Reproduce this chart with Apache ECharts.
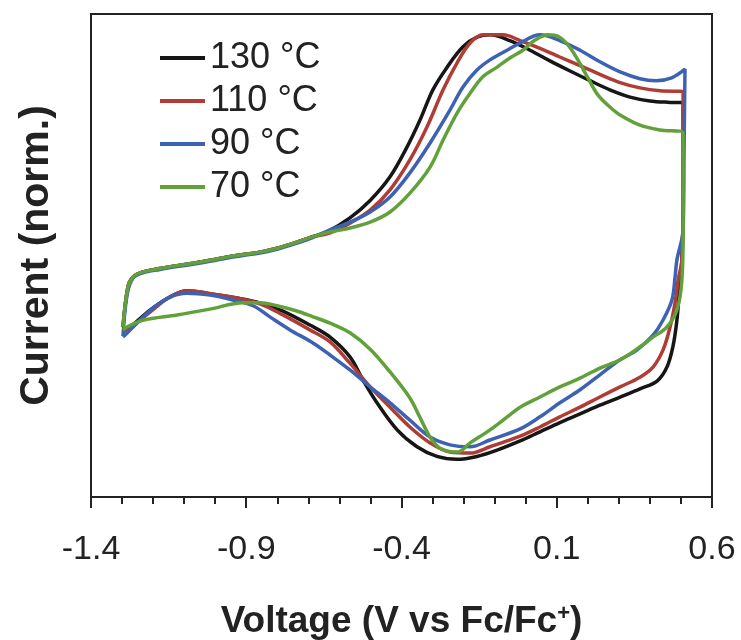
<!DOCTYPE html>
<html>
<head>
<meta charset="utf-8">
<script src="https://cdn.jsdelivr.net/npm/echarts@6/dist/echarts.min.js"></script>
<style>html,body{margin:0;padding:0;background:#fff;}#chart{width:741px;height:640px;}</style>
</head>
<body>
<div id="chart"></div>
<script>
// Series names
var seriesNames = ['130 °C', '110 °C', '90 °C', '70 °C'];
var seriesColors = ['#161616', '#b03d35', '#3d62b4', '#62a03a'];

// X-axis tick labels (V vs Fc/Fc+)
var xMajorTicks = [-1.4, -0.9, -0.4, 0.1, 0.6];

// 130 °C
var v130 = [-1.297,-1.281,-1.265,-1.233,-1.178,-1.123,-1.072,-1.017,-0.960,-0.910,-0.856,-0.801,-0.749,-0.695,-0.640,-0.566,-0.501,-0.437,-0.382,-0.340,-0.299,-0.253,-0.202,-0.157,-0.115,-0.051,0.014,0.078,0.143,0.207,0.271,0.336,0.400,0.465,0.507,0.507,0.503,0.494,0.487,0.474,0.455,0.423,0.368,0.304,0.239,0.175,0.110,0.046,-0.018,-0.092,-0.157,-0.221,-0.286,-0.350,-0.414,-0.479,-0.524,-0.566,-0.630,-0.695,-0.782,-0.856,-0.930,-1.017,-1.091,-1.146,-1.210,-1.274,-1.297];
var i130 = [0.352,0.435,0.455,0.466,0.473,0.479,0.484,0.490,0.497,0.502,0.507,0.515,0.525,0.537,0.549,0.578,0.614,0.663,0.725,0.781,0.843,0.890,0.932,0.952,0.957,0.945,0.925,0.903,0.882,0.862,0.843,0.828,0.820,0.817,0.816,0.615,0.491,0.422,0.366,0.311,0.269,0.240,0.224,0.207,0.190,0.172,0.154,0.135,0.116,0.097,0.084,0.078,0.084,0.104,0.139,0.195,0.242,0.290,0.331,0.356,0.385,0.402,0.412,0.421,0.427,0.414,0.387,0.352,0.346];

// 110 °C
var v110 = [-1.297,-1.281,-1.265,-1.233,-1.178,-1.123,-1.072,-1.017,-0.960,-0.910,-0.856,-0.801,-0.749,-0.695,-0.630,-0.566,-0.501,-0.437,-0.373,-0.318,-0.266,-0.221,-0.179,-0.138,-0.073,-0.018,0.046,0.110,0.175,0.239,0.304,0.368,0.433,0.507,0.507,0.503,0.491,0.481,0.465,0.442,0.410,0.368,0.304,0.239,0.175,0.110,0.046,-0.018,-0.115,-0.179,-0.244,-0.308,-0.373,-0.437,-0.501,-0.566,-0.630,-0.695,-0.782,-0.856,-0.930,-1.017,-1.091,-1.146,-1.210,-1.274,-1.297];
var i110 = [0.352,0.435,0.455,0.466,0.473,0.479,0.484,0.490,0.497,0.502,0.507,0.515,0.525,0.537,0.547,0.567,0.594,0.636,0.698,0.766,0.843,0.899,0.940,0.957,0.957,0.945,0.929,0.911,0.893,0.875,0.858,0.847,0.841,0.839,0.615,0.491,0.449,0.402,0.352,0.304,0.269,0.248,0.228,0.207,0.186,0.166,0.145,0.126,0.104,0.091,0.093,0.112,0.145,0.186,0.228,0.277,0.321,0.346,0.377,0.400,0.412,0.421,0.427,0.414,0.383,0.350,0.344];

// 90 °C
var v90 = [-1.297,-1.284,-1.265,-1.233,-1.178,-1.123,-1.072,-1.017,-0.960,-0.910,-0.856,-0.801,-0.749,-0.695,-0.630,-0.566,-0.501,-0.437,-0.373,-0.308,-0.244,-0.202,-0.157,-0.115,-0.060,-0.018,0.046,0.110,0.175,0.239,0.304,0.368,0.420,0.470,0.513,0.510,0.507,0.487,0.481,0.471,0.442,0.410,0.358,0.304,0.239,0.175,0.110,0.046,-0.018,-0.115,-0.179,-0.244,-0.308,-0.373,-0.437,-0.501,-0.566,-0.630,-0.685,-0.759,-0.824,-0.878,-0.943,-1.017,-1.091,-1.146,-1.200,-1.252,-1.297];
var i90 = [0.333,0.418,0.453,0.464,0.471,0.477,0.482,0.488,0.495,0.500,0.505,0.513,0.523,0.535,0.553,0.569,0.590,0.621,0.671,0.733,0.801,0.849,0.884,0.905,0.925,0.940,0.957,0.945,0.925,0.901,0.880,0.866,0.862,0.868,0.886,0.718,0.553,0.491,0.455,0.408,0.366,0.335,0.304,0.284,0.253,0.222,0.195,0.166,0.141,0.118,0.104,0.108,0.124,0.159,0.195,0.228,0.263,0.294,0.319,0.346,0.373,0.396,0.408,0.418,0.422,0.414,0.391,0.360,0.331];

// 70 °C
var v70 = [-1.297,-1.281,-1.265,-1.233,-1.178,-1.123,-1.072,-1.017,-0.960,-0.910,-0.856,-0.801,-0.749,-0.695,-0.630,-0.566,-0.501,-0.437,-0.373,-0.308,-0.266,-0.221,-0.179,-0.138,-0.092,-0.051,-0.009,0.030,0.072,0.104,0.136,0.168,0.201,0.233,0.272,0.304,0.368,0.433,0.507,0.507,0.503,0.487,0.455,0.410,0.368,0.304,0.239,0.175,0.110,0.046,-0.018,-0.051,-0.115,-0.179,-0.221,-0.276,-0.308,-0.340,-0.373,-0.437,-0.501,-0.566,-0.630,-0.685,-0.737,-0.801,-0.856,-0.910,-1.017,-1.123,-1.233,-1.284,-1.297];
var i70 = [0.352,0.435,0.455,0.466,0.473,0.479,0.484,0.490,0.497,0.502,0.507,0.515,0.525,0.537,0.549,0.557,0.569,0.590,0.629,0.683,0.739,0.795,0.836,0.870,0.890,0.909,0.925,0.946,0.957,0.954,0.936,0.905,0.867,0.832,0.807,0.791,0.770,0.760,0.754,0.553,0.449,0.387,0.352,0.331,0.311,0.284,0.267,0.246,0.228,0.207,0.186,0.170,0.139,0.112,0.093,0.101,0.124,0.164,0.205,0.259,0.306,0.340,0.360,0.373,0.385,0.396,0.402,0.402,0.389,0.377,0.366,0.352,0.346];

var voltages = [v130, v110, v90, v70];
var currents = [i130, i110, i90, i70];

function zip(a, b) { var out = []; for (var k = 0; k < a.length; k++) out.push([a[k], b[k]]); return out; }

var minorTicks = [];
for (var t = -14; t <= 6; t++) minorTicks.push(t / 10);

var FONT = '"Liberation Sans", Arial, sans-serif';

var chart = echarts.init(document.getElementById('chart'), null, { renderer: 'canvas' });
chart.setOption({
  backgroundColor: '#ffffff',
  animation: false,
  grid: { left: 91, right: 29, top: 14, bottom: 143, outerBoundsMode: 'none', containLabel: false,
    show: true, borderColor: '#222', borderWidth: 2, backgroundColor: 'transparent' },
  legend: {
    orient: 'vertical', left: 160, top: 40, padding: 0, itemGap: 7,
    itemWidth: 45, itemHeight: 4, icon: 'rect',
    data: seriesNames,
    textStyle: { fontFamily: FONT, fontSize: 36, color: '#222', lineHeight: 36 }
  },
  xAxis: [{
    type: 'value', min: -1.4, max: 0.6, interval: 0.1,
    name: 'Voltage (V vs Fc/Fc{sup|+})', nameLocation: 'middle', nameGap: 106,
    nameTextStyle: { fontFamily: FONT, fontSize: 37, fontWeight: 'bold', color: '#222',
      rich: { sup: { fontFamily: FONT, fontSize: 22, fontWeight: 'bold', color: '#222', verticalAlign: 'top', padding: [0, 0, 14, 0] } } },
    axisLine: { show: true, onZero: false, lineStyle: { color: '#222', width: 2 } },
    axisTick: { show: true, length: 7, customValues: minorTicks, lineStyle: { color: '#222', width: 2 } },
    axisLabel: { show: true, customValues: xMajorTicks, margin: 36, fontFamily: FONT, fontSize: 34, color: '#222',
      formatter: function (v) { return (Math.round(v * 10) / 10).toFixed(1); } },
    splitLine: { show: false }
  }, {
    type: 'value', min: -1.4, max: 0.6, position: 'bottom', offset: 0,
    axisLine: { show: false, onZero: false },
    axisTick: { show: true, length: 11, customValues: xMajorTicks, lineStyle: { color: '#222', width: 2 } },
    axisLabel: { show: false },
    splitLine: { show: false }
  }],
  yAxis: {
    type: 'value', min: 0, max: 1,
    name: 'Current (norm.)', nameLocation: 'middle', nameGap: 34,
    nameTextStyle: { fontFamily: FONT, fontSize: 41, fontWeight: 'bold', color: '#222' },
    axisLine: { show: true, onZero: false, lineStyle: { color: '#222', width: 2 } },
    axisTick: { show: false },
    axisLabel: { show: false },
    splitLine: { show: false }
  },
  series: seriesNames.map(function (name, k) {
    return {
      name: name, type: 'line', xAxisIndex: 0,
      data: zip(voltages[k], currents[k]),
      smooth: 0.35, symbol: 'none', showSymbol: false,
      color: seriesColors[k],
      lineStyle: { color: seriesColors[k], width: 3.5 }
    };
  })
});
</script>
</body>
</html>
